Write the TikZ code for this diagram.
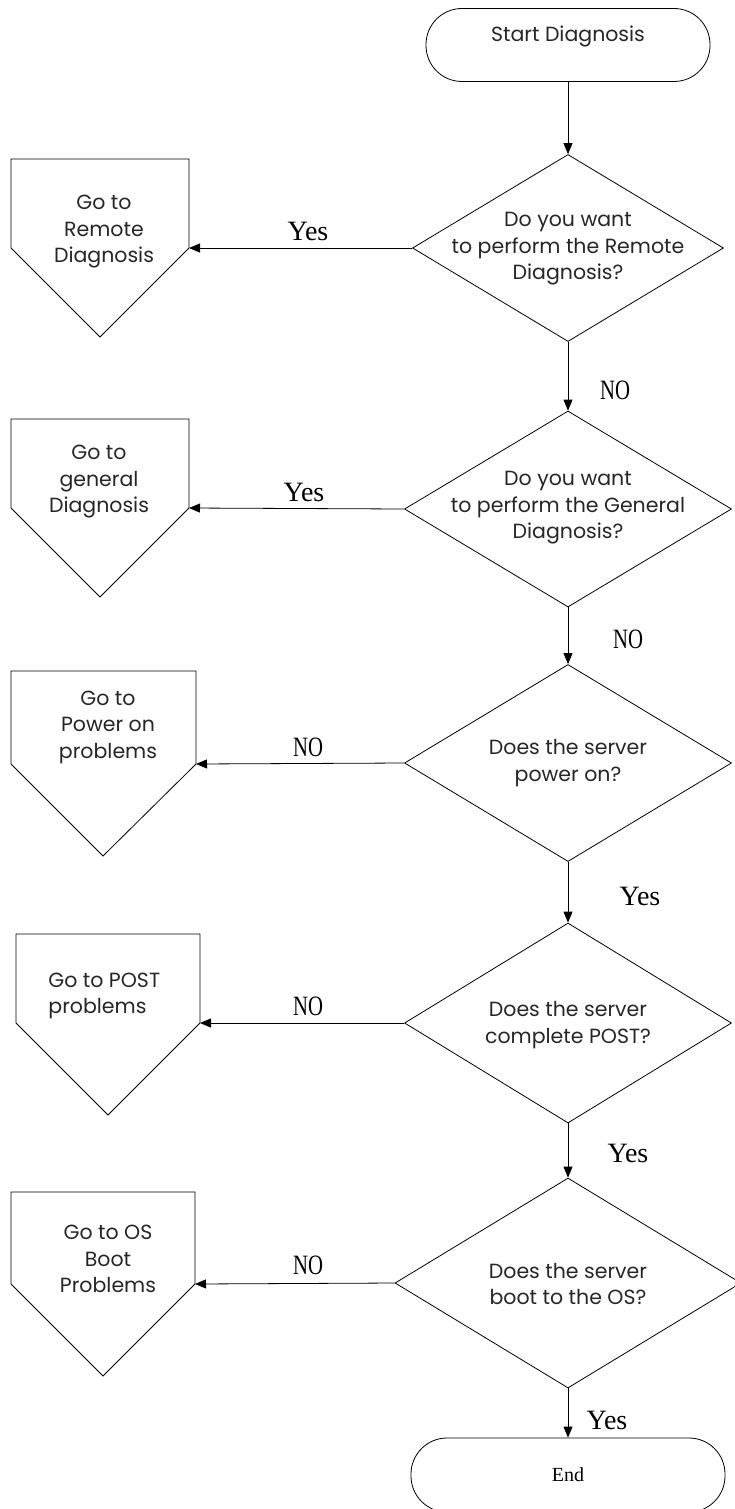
\documentclass[tikz,border=0pt]{standalone}
\usepackage{fontspec}
\setmainfont{Poppins}
\newfontfamily\labelfont{Liberation Serif}
\usetikzlibrary{shapes.geometric,arrows.meta}

\begin{document}
\begin{tikzpicture}[x=1pt,y=-1pt,
  line width=0.8pt,
  txt/.style={font=\fontsize{20.5}{26.5}\selectfont, align=center, inner sep=0pt, text=black!85},
  term/.style={draw, rounded corners=36pt, inner sep=0pt},
  decision/.style={draw, shape=diamond, inner sep=0pt},
  flow/.style={-{Triangle[length=11pt,width=9pt]}},
  lab/.style={font=\labelfont\fontsize{28}{28}\selectfont, inner sep=0pt},
  nolab/.style={lab, xscale=0.74},
]
\useasboundingbox (0,0) rectangle (735,1509);

% terminals
\node[term, minimum width=284pt, minimum height=73pt] (start) at (568,45) {};
\node[txt] (starttext) at (568,36) {Start Diagnosis};
\node[term, minimum width=314pt, minimum height=74pt, font=\labelfont\fontsize{20}{20}\selectfont] (end) at (568,1475) {End};

% decisions
\node[decision, minimum width=311pt, minimum height=187pt] (d1) at (568,248) {};
\node[decision, minimum width=327pt, minimum height=196pt] (d2) at (568,509) {};
\node[decision, minimum width=327pt, minimum height=197pt] (d3) at (568,763) {};
\node[decision, minimum width=327pt, minimum height=200pt] (d4) at (568,1023) {};
\node[decision, minimum width=346pt, minimum height=210pt] (d5) at (568,1283) {};

\node[txt] (d1t) at (568,249) {Do you want\\to perform the Remote\\Diagnosis?};
\node[txt] (d2t) at (568,508) {Do you want\\to perform the General\\Diagnosis?};
\node[txt] (d3t) at (568,763) {Does the server\\power on?};
\node[txt] (d4t) at (568,1025) {Does the server\\complete POST?};
\node[txt] (d5t) at (568,1284) {Does the server\\boot to the OS?};

% off-page connectors
\draw (11,159) -- (189,159) -- (189,248) -- (100,337) -- (11,248) -- cycle;
\coordinate (p1) at (189,248);
\node[txt] (p1t) at (104,232) {Go to\\Remote\\Diagnosis};

\draw (11,419) -- (189,419) -- (189,508) -- (100,597) -- (11,508) -- cycle;
\coordinate (p2) at (189,508);
\node[txt] (p2t) at (99,482) {Go to\\general\\Diagnosis};

\draw (11,671) -- (196,671) -- (196,764) -- (103,856) -- (11,764) -- cycle;
\coordinate (p3) at (196,764);
\node[txt] (p3t) at (108,727) {Go to\\Power on\\problems};

\draw (16,934) -- (200,934) -- (200,1023) -- (108,1115) -- (16,1023) -- cycle;
\coordinate (p4) at (200,1023);
\node[txt, align=left, anchor=west] (p4t) at (48,996) {Go to POST\\problems};

\draw (11,1192) -- (195,1192) -- (195,1284) -- (103,1376) -- (11,1284) -- cycle;
\coordinate (p5) at (195,1284);
\node[txt] (p5t) at (108,1259) {Go to OS\\Boot\\Problems};

% main flow
\draw[flow] (start.south) -- (d1.north);
\draw[flow] (d1.south) -- (d2.north);
\draw[flow] (d2.south) -- (d3.north);
\draw[flow] (d3.south) -- (d4.north);
\draw[flow] (d4.south) -- (d5.north);
\draw[flow] (d5.south) -- (end.north);

\node[nolab] (l1) at (615,390) {NO};
\node[nolab] (l2) at (628,639) {NO};
\node[lab] (l3) at (640,896) {Yes};
\node[lab] (l4) at (628,1153) {Yes};
\node[lab] (l5) at (607,1420) {Yes};

% side branches
\draw[flow] (d1.west) -- (p1);
\draw[flow] (d2.west) -- (p2);
\draw[flow] (d3.west) -- (p3);
\draw[flow] (d4.west) -- (p4);
\draw[flow] (d5.west) -- (p5);

\node[lab] (s1) at (308,231) {Yes};
\node[lab] (s2) at (304,492) {Yes};
\node[nolab] (s3) at (308,747) {NO};
\node[nolab] (s4) at (308,1006) {NO};
\node[nolab] (s5) at (308,1265) {NO};
\end{tikzpicture}
\end{document}
